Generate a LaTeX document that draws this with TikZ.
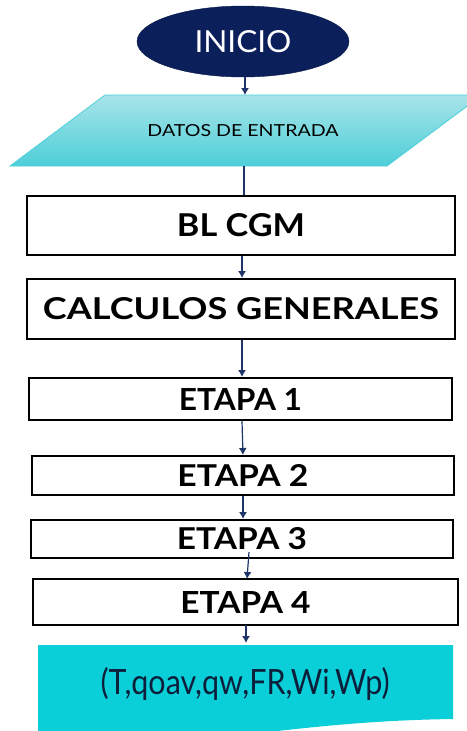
\documentclass[tikz,border=0pt]{standalone}
\usepackage{fontspec}
\setmainfont{Lato}
\usetikzlibrary{arrows.meta,shapes.geometric}
\definecolor{navy}{HTML}{0B1F5B}
\definecolor{arrowc}{HTML}{1F3468}
\definecolor{cyantop}{HTML}{A8E4E9}
\definecolor{cyanbot}{HTML}{4DCFD8}
\definecolor{outc}{HTML}{0BCFD8}
\definecolor{outtext}{HTML}{0B1F3B}
\newcommand{\fitT}[3]{\resizebox{#1pt}{#2pt}{#3}}
\begin{document}
\begin{tikzpicture}[x=1pt,y=-1pt,
  box/.style={draw=black,line width=2pt,fill=white,inner sep=0pt,rectangle},
  arr/.style={draw=arrowc,line width=1.2pt,-{Latex[length=7pt,width=8pt]}},
  plainline/.style={draw=arrowc,line width=1.2pt}]
\useasboundingbox (0,0) rectangle (466,731);
% start
\node[ellipse, fill=navy, draw=navy!80!black, minimum width=212pt, minimum height=71pt, inner sep=0pt] (ini) at (243,41.5) {\color{white}\fitT{97}{22}{INICIO}};
% input parallelogram
\path[top color=cyantop,bottom color=cyanbot,draw=cyanbot,line width=0.8pt] (105,95) -- (482,95) -- (387,166) -- (10,166) -- cycle;
\node (datos) at (243,131) {\fitT{191}{12}{DATOS DE ENTRADA}};
\coordinate (dtop) at (245,95);
\coordinate (dbot) at (244,166);
% boxes
\node[box, minimum width=428pt, minimum height=59pt] (bl) at (241,225.5) {\fitT{128}{23}{\bfseries BL CGM}};
\node[box, minimum width=428pt, minimum height=60pt] (calc) at (241,309) {\fitT{396}{22}{\bfseries CALCULOS GENERALES}};
\node[box, minimum width=423pt, minimum height=42pt] (e1) at (240.5,399) {\fitT{123}{22}{\bfseries ETAPA 1}};
\node[box, minimum width=422pt, minimum height=39pt] (e2) at (243,475.5) {\fitT{131}{22}{\bfseries ETAPA 2}};
\node[box, minimum width=422pt, minimum height=38pt] (e3) at (242,539) {\fitT{130}{22}{\bfseries ETAPA 3}};
\node[box, minimum width=425pt, minimum height=46pt] (e4) at (245.5,602) {\fitT{130}{22}{\bfseries ETAPA 4}};
% output
\fill[outc] (38,645) -- (453,645) -- (453,719) .. controls (380,720) and (320,726) .. (260,733) -- (38,733) -- cycle;
\node (res) at (245,684) {\color{outtext}\resizebox{289pt}{27pt}{(T,qoav,qw,FR,Wi,Wp)}};
\coordinate (restop) at (246,643);
\coordinate (e3out) at (249,552);
\coordinate (e4in) at (247,579);
\coordinate (e4out) at (246,625);
% connectors
\draw[arr] (ini.south -| dtop) -- (dtop);
\draw[plainline] (dbot) -- (bl.north -| dbot);
\draw[arr] (bl.south -| 242,0) -- (calc.north -| 242,0);
\draw[arr] (calc.south -| 242,0) -- (e1.north -| 242,0);
\draw[arr] (e1.south -| 242,0) -- (e2.north -| 243,0);
\draw[arr] (e2.south -| 243,0) -- (e3.north -| 243,0);
\draw[arr] (e3out) -- (e4in);
\draw[arr] (e4out) -- (restop);
\end{tikzpicture}
\end{document}
